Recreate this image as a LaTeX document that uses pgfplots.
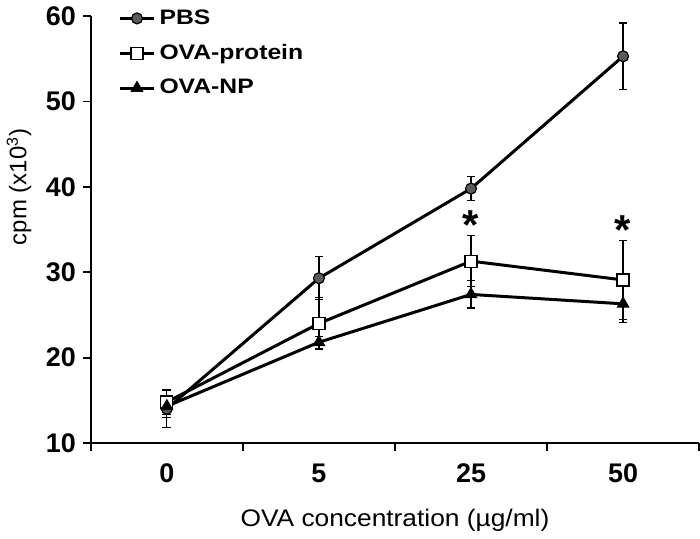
\documentclass[border=0pt]{standalone}
\usepackage{fontspec}
\setmainfont{Liberation Sans}
\newfontfamily\wideA[FakeStretch=1.1]{Liberation Sans}
\newfontfamily\wideB[FakeStretch=1.18]{Liberation Sans}
\usepackage{pgfplots}
\pgfplotsset{compat=1.18}
\definecolor{pbsgray}{HTML}{5A5A5A}
\begin{document}
\begin{tikzpicture}
\begin{axis}[
 scale only axis, width=305pt, height=214pt,
 xmin=-0.5, xmax=3.5, ymin=10, ymax=60,
 axis x line=bottom, axis y line=left,
 axis line style={-, line width=0.9pt},
 xtick={-0.5,0.5,1.5,2.5,3.5},
 x tick label as interval,
 xticklabels={0,5,25,50},
 ytick={10,20,...,60},
 tick align=outside,
 major tick length=4pt,
 tick style={line width=0.9pt, black},
 /pgf/number format/assume math mode=true,
 tick label style={font=\fontsize{13.5}{15}\selectfont\bfseries},
 xticklabel style={yshift=-3pt},
 xlabel={OVA concentration (µg/ml)},
 ylabel={cpm (x10\textsuperscript{3})},
 xlabel style={font=\wideA\fontsize{12}{14}\selectfont, at={(axis description cs:0.5,-0.182)}, anchor=center},
 ylabel style={font=\fontsize{12}{14}\selectfont, at={(axis description cs:-0.118,0.6)}, anchor=center},
 legend style={draw=none, fill=none, at={(axis description cs:0.035,1.035)}, anchor=north west,
   font=\wideB\fontsize{10.5}{12}\selectfont\bfseries, row sep=4.5pt},
 legend cell align=left,
]
\addplot[black, line width=1.5pt, mark=*, mark size=2.75pt,
  mark options={fill=pbsgray, draw=black, line width=0.6pt},
  error bars/.cd, y dir=both, y explicit,
  error bar style={line width=0.6pt, solid},
  error mark options={rotate=90, mark size=2.2pt, line width=0.6pt}]
  coordinates {(0,14.0) +- (0,2.2) (1,29.3) +- (0,2.5) (2,39.8) +- (0,1.4) (3,55.3) +- (0,3.9)};
\addlegendentry{PBS}
\addplot[black, line width=1.5pt, mark=square*, mark size=3pt,
  mark options={fill=white, draw=black, line width=0.6pt},
  error bars/.cd, y dir=both, y explicit,
  error bar style={line width=0.6pt, solid},
  error mark options={rotate=90, mark size=2.2pt, line width=0.6pt}]
  coordinates {(0,14.8) +- (0,1.5) (1,24.0) +- (0,3.0) (2,31.3) +- (0,3.0) (3,29.1) +- (0,4.6)};
\addlegendentry{OVA-protein}
\addplot[black, line width=1.5pt, mark=triangle*, mark size=3.2pt,
  mark options={fill=black, draw=black, line width=0.6pt},
  error bars/.cd, y dir=both, y explicit,
  error bar style={line width=0.6pt, solid},
  error mark options={rotate=90, mark size=2.2pt, line width=0.6pt}]
  coordinates {(0,14.3) +- (0,1.3) (1,21.8) +- (0,0.7) (2,27.4) +- (0,1.6) (3,26.3) +- (0,2.2)};
\addlegendentry{OVA-NP}
\node[font=\fontsize{21}{21}\selectfont\bfseries] at (axis cs:2,35.5) {*};
\node[font=\fontsize{21}{21}\selectfont\bfseries] at (axis cs:3,34.9) {*};
\end{axis}
\end{tikzpicture}
\end{document}
